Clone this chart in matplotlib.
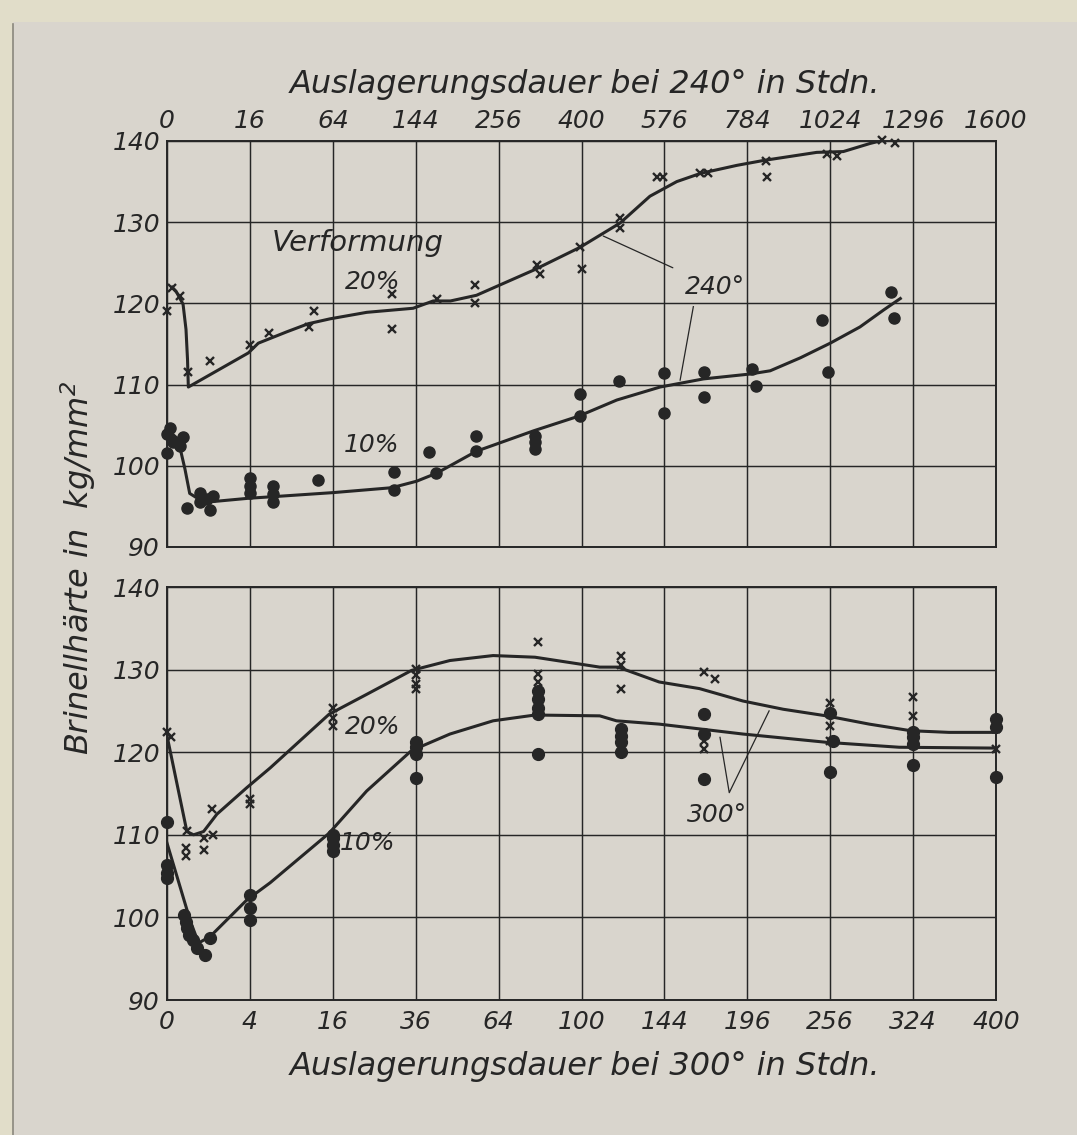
import numpy as np
import matplotlib.pyplot as plt
from matplotlib.patches import Rectangle
from matplotlib.lines import Line2D

plt.rcParams['font.family'] = ['DejaVu Sans']
plt.rcParams['font.style'] = 'italic'

ink = '#262626'
paper = '#d9d5cd'

# --- Auslagerung bei 240 Grad (oben), Zeit in Stunden ---
top_ticks = [0, 16, 64, 144, 256, 400, 576, 784, 1024, 1296, 1600]

top20_h = [0, 0.06, 0.4, 1, 4.3, 16, 24, 47, 50, 118, 118, 170, 221, 221,
           318, 324, 397, 400, 478, 478, 559, 573, 662, 681, 836, 839,
           1014, 1045, 1190, 1234]
top20_v = [119.1, 121.9, 120.9, 111.5, 112.9, 114.9, 116.3, 117.1, 119.1,
           121.1, 116.8, 120.6, 122.3, 120.0, 124.7, 123.6, 126.9, 124.2,
           130.5, 129.3, 135.6, 135.6, 136.0, 136.0, 137.5, 135.6,
           138.4, 138.2, 140.1, 139.8]

top10_h = [0.02, 0, 0.08, 0, 0.4, 0.6, 0.9, 2.5, 3.7, 4.4, 4.9, 2.5,
           16, 16, 16, 26, 26, 26, 53, 120, 120, 160, 168, 223, 223,
           315, 315, 315, 397, 397, 475, 576, 576, 672, 672, 796, 808,
           998, 1018, 1220, 1229]
top10_v = [104.7, 103.9, 102.9, 101.6, 102.4, 103.5, 94.8, 96.7, 95.9, 94.6,
           96.3, 95.5, 98.5, 97.5, 96.7, 97.5, 96.5, 95.5, 98.2, 99.2, 97.0,
           101.7, 99.1, 103.7, 101.8, 103.7, 102.9, 102.1, 108.8, 106.1,
           110.4, 111.4, 106.5, 111.6, 108.5, 111.9, 109.8, 118.0, 111.6,
           121.4, 118.2]

top20_curve_h = [0.06, 0.19, 0.6, 0.84, 0.98, 1.06, 15.4, 19.4, 33.4, 46.5,
                 61.9, 92.9, 141, 165, 187, 223, 313, 397, 478, 543, 605,
                 662, 756, 828, 983, 1065, 1151, 1195]
top20_curve_v = [122.0, 121.5, 119.9, 116.8, 113.1, 109.7, 113.9, 115.1,
                 116.5, 117.5, 118.1, 118.9, 119.4, 120.3, 120.3, 121.0,
                 124.1, 126.9, 129.9, 133.2, 135.0, 136.0, 137.0, 137.6,
                 138.6, 138.7, 139.7, 140.1]
top10_curve_h = [0, 0.28, 0.75, 1.2, 2.54, 5.0, 15.4, 26.3, 64.4, 117.6,
                 145, 169.5, 223, 312.6, 394, 471, 566, 670, 791, 847, 934,
                 1024, 1118, 1196, 1252]
top10_curve_v = [104.5, 103.3, 99.6, 96.6, 95.8, 95.6, 96.0, 96.2, 96.7,
                 97.3, 98.1, 99.1, 101.8, 104.3, 106.1, 108.1, 109.7, 110.7,
                 111.3, 111.7, 113.3, 115.1, 117.1, 119.2, 120.6]

# --- Auslagerung bei 300 Grad (unten) ---
bot_ticks = [0, 4, 16, 36, 64, 100, 144, 196, 256, 324, 400]

bot20_h = [0, 0.01, 0.2, 0.2, 0.23, 0.78, 0.78, 1.18, 1.25, 4, 4,
           16, 16, 16, 36, 36, 36, 36, 80, 80, 80, 120, 120, 120,
           168, 175, 168, 168, 256, 256, 256, 324, 324, 400, 400]
bot20_v = [122.5, 121.8, 108.4, 107.4, 110.4, 109.6, 108.2, 113.1, 110.0,
           114.3, 113.7, 125.4, 124.2, 123.2, 130.1, 129.3, 128.3, 127.7,
           133.3, 129.5, 128.5, 131.7, 130.5, 127.7, 129.7, 128.9, 121.3,
           120.4, 125.9, 123.2, 121.4, 126.7, 124.4, 122.8, 120.4]

bot10_h = [0, 0, 0, 0, 0.16, 0.2, 0.23, 0.27, 0.4, 0.52, 0.85, 1.09,
           4, 4, 4, 16, 16, 16, 16, 36, 36, 36, 36, 80, 80, 80, 80, 80,
           120, 120, 120, 120, 168, 168, 168, 256, 258, 256,
           324, 324, 324, 324, 400, 400, 400]
bot10_v = [111.6, 106.4, 105.4, 104.8, 100.3, 99.5, 98.7, 97.9, 97.3, 96.3,
           95.5, 97.5, 102.7, 101.1, 99.7, 110.0, 109.6, 108.8, 108.0,
           121.2, 120.6, 119.8, 116.9, 127.4, 126.4, 125.4, 124.6, 119.8,
           122.8, 122.0, 121.2, 120.0, 124.6, 122.2, 116.8, 124.8, 121.4,
           117.6, 122.4, 121.8, 121.0, 118.4, 124.0, 123.0, 117.0]

bot20_curve_h = [0, 0.23, 0.41, 0.78, 1.45, 3.7, 6.2, 15.3, 23.2, 34.8,
                 46.6, 61.9, 78.8, 109, 118.4, 141, 165, 193, 221, 253,
                 287, 322, 356, 400]
bot20_curve_v = [122.0, 110.4, 110.0, 110.4, 112.5, 115.7, 118.1, 124.6,
                 127.0, 129.9, 131.1, 131.7, 131.5, 130.3, 130.3, 128.5,
                 127.7, 126.2, 125.2, 124.4, 123.4, 122.6, 122.4, 122.4]
bot10_curve_h = [0, 0.32, 0.58, 1.09, 3.7, 6.2, 15.3, 23.2, 34.8, 46.6,
                 61.9, 78.8, 109, 117.6, 141, 193, 253, 312, 397]
bot10_curve_v = [109.0, 99.5, 96.9, 97.7, 102.1, 104.2, 110.2, 115.3,
                 120.2, 122.2, 123.8, 124.5, 124.4, 123.8, 123.4, 122.2,
                 121.2, 120.6, 120.5]


def fwd(x):
    return np.sqrt(np.clip(x, 0, None))


def inv(x):
    return np.square(x)


W, H = 1077, 1135
fig = plt.figure(figsize=(W / 100, H / 100), dpi=100)
fig.patch.set_facecolor('#e1ddc9')
fig.patches.append(Rectangle((13 / W, 0), 1, 1 - 22 / H, transform=fig.transFigure,
                             facecolor=paper, edgecolor='none', zorder=-2))
fig.lines.append(Line2D([13 / W, 13 / W], [0, 1 - 24 / H], transform=fig.transFigure,
                        color='#8a877d', lw=1.2, zorder=-1))

ax1 = fig.add_axes([167 / W, 1 - 547 / H, 829 / W, 406 / H])
ax2 = fig.add_axes([167 / W, 1 - 1000 / H, 829 / W, 413 / H])


def setup(ax, ticks):
    ax.set_facecolor('none')
    ax.set_xscale('function', functions=(fwd, inv))
    ax.set_xlim(0, ticks[-1])
    ax.set_ylim(90, 140)
    ax.set_xticks(ticks)
    ax.set_xticklabels([str(t) for t in ticks])
    ax.set_yticks(range(90, 141, 10))
    ax.set_axisbelow(True)
    ax.grid(True, color=ink, lw=1.05)
    ax.tick_params(length=0, labelsize=18, colors=ink)
    ax.tick_params(axis='y', pad=5)
    for sp in ax.spines.values():
        sp.set_color(ink)
        sp.set_linewidth(1.4)


setup(ax1, top_ticks)
ax1.xaxis.tick_top()
ax1.tick_params(axis='x', pad=6)
setup(ax2, bot_ticks)
ax2.tick_params(axis='x', pad=7)

# Kurven
ax1.plot(top20_curve_h, top20_curve_v, color=ink, lw=2.2)
ax1.plot(top10_curve_h, top10_curve_v, color=ink, lw=2.2)
ax2.plot(bot20_curve_h, bot20_curve_v, color=ink, lw=2.2)
ax2.plot(bot10_curve_h, bot10_curve_v, color=ink, lw=2.2)

# Messpunkte
ax1.plot(top20_h, top20_v, 'x', color=ink, ms=6, mew=1.7, clip_on=False)
ax1.plot(top10_h, top10_v, 'o', color=ink, ms=8, clip_on=False)
ax2.plot(bot20_h, bot20_v, 'x', color=ink, ms=6, mew=1.7, clip_on=False)
ax2.plot(bot10_h, bot10_v, 'o', color=ink, ms=8.5, clip_on=False)

# Beschriftungen
fs = 18
ax1.text(85, 127.4, 'Verformung', fontsize=21, color=ink, ha='center', va='center')
ax1.text(98, 122.6, '20%', fontsize=fs, color=ink, ha='center', va='center')
ax1.text(97, 102.5, '10%', fontsize=fs, color=ink, ha='center', va='center')
ax1.annotate('240°', xy=(443, 128.3), xytext=(700, 122.0), fontsize=fs, color=ink,
             ha='center', va='center',
             arrowprops=dict(arrowstyle='-', color=ink, lw=0.9, shrinkA=8, shrinkB=0))
ax1.plot([645, 613], [119.6, 110.55], color=ink, lw=0.9)

ax2.text(24.5, 123.1, '20%', fontsize=fs, color=ink, ha='center', va='center')
ax2.text(23.3, 109.0, '10%', fontsize=fs, color=ink, ha='center', va='center')
ax2.text(176, 112.4, '300°', fontsize=fs, color=ink, ha='center', va='center')
ax2.plot([178, 184, 211], [121.8, 115.1, 125.0], color=ink, lw=0.9)

fig.text(585 / W, 1 - 85 / H, 'Auslagerungsdauer bei 240° in Stdn.', fontsize=23,
         color=ink, ha='center', va='center')
fig.text(585 / W, 1 - 1066 / H, 'Auslagerungsdauer bei 300° in Stdn.', fontsize=23,
         color=ink, ha='center', va='center')
fig.text(78 / W, 1 - 568 / H, 'Brinellhärte in  kg/mm$^2$', fontsize=23, color=ink,
         ha='center', va='center', rotation=90)

fig.savefig('out.png', dpi=100, facecolor=fig.get_facecolor())
